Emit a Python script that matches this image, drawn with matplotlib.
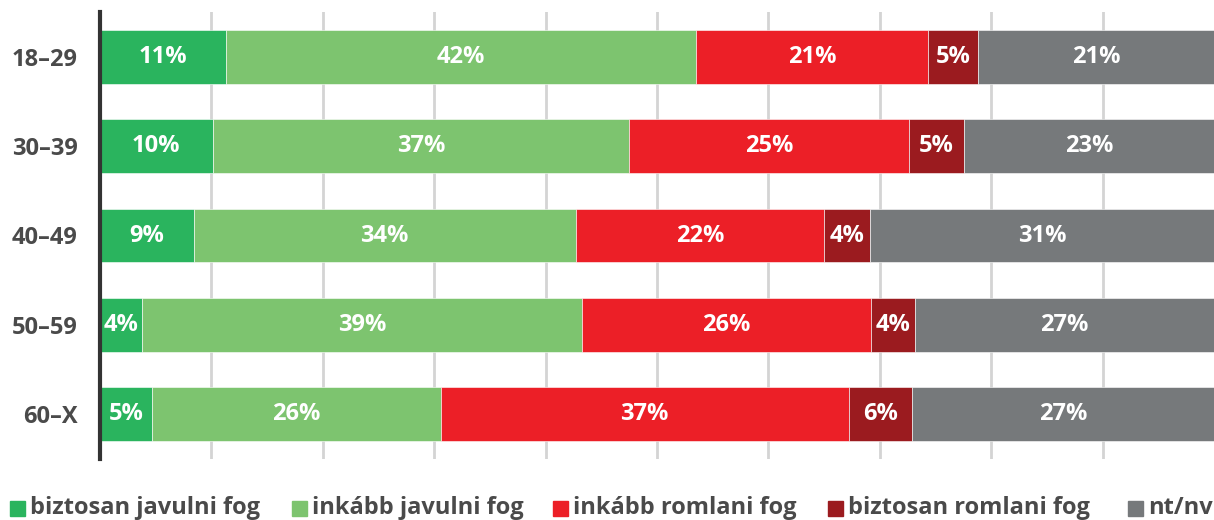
import numpy as np
import matplotlib.pyplot as plt
from matplotlib.patches import Rectangle

plt.rcParams['font.family'] = ['Open Sans', 'DejaVu Sans']

groups = ["18–29", "30–39", "40–49", "50–59", "60–X"]
series = ["biztosan javulni fog", "inkább javulni fog", "inkább romlani fog",
          "biztosan romlani fog", "nt/nv"]
colors = ["#2AB45E", "#7DC46F", "#EC1F27", "#9B1B1F", "#76797B"]

# segment widths (percent)
biztos_jav = [11.3, 10.1, 8.4, 3.8, 4.7]
inkabb_jav = [42.2, 37.4, 34.3, 39.5, 25.9]
inkabb_rom = [20.8, 25.1, 22.3, 25.9, 36.6]
biztos_rom = [4.5, 5.0, 4.1, 4.0, 5.7]
ntnv = [21.2, 22.4, 30.9, 26.8, 27.1]

# printed labels
lab_biztos_jav = [11, 10, 9, 4, 5]
lab_inkabb_jav = [42, 37, 34, 39, 26]
lab_inkabb_rom = [21, 25, 22, 26, 37]
lab_biztos_rom = [5, 5, 4, 4, 6]
lab_ntnv = [21, 23, 31, 27, 27]

values = [biztos_jav, inkabb_jav, inkabb_rom, biztos_rom, ntnv]
labels = [lab_biztos_jav, lab_inkabb_jav, lab_inkabb_rom, lab_biztos_rom, lab_ntnv]

fig = plt.figure(figsize=(12.14, 5.2), dpi=100)
ax = fig.add_axes([100 / 1214, 1 - 459 / 520, 1114 / 1214, 447 / 520])

y = np.arange(len(groups))
left = np.zeros(len(groups))
for vals, labs, col in zip(values, labels, colors):
    ax.barh(y, vals, left=left, height=0.6, color=col, edgecolor="white",
            linewidth=0.4, zorder=2)
    for yi, (l, v, t) in enumerate(zip(left, vals, labs)):
        ax.text(l + v / 2, yi, f"{t}%", ha="center", va="center", color="white",
                fontsize=17, fontweight="bold", zorder=3)
    left += np.array(vals)

ax.set_xlim(0, 100)
ax.set_ylim(len(groups) - 0.5, -0.5)
ax.set_xticks(np.arange(10, 100, 10))
ax.xaxis.grid(True, color="#D4D4D4", linewidth=2, zorder=0)
ax.tick_params(axis="x", length=0, labelbottom=False)
ax.set_yticks(y)
ax.set_yticklabels(groups, fontsize=17, fontweight="bold", color="#4A4A4A")
ax.tick_params(axis="y", length=0, pad=16)
for s in ["top", "right", "bottom"]:
    ax.spines[s].set_visible(False)
ax.spines["left"].set_color("#333333")
ax.spines["left"].set_linewidth(3)
ax.spines["left"].set_zorder(4)

# legend
leg_x = [10, 292, 553, 828, 1128]
for x0, name, col in zip(leg_x, series, colors):
    fig.patches.append(Rectangle((x0 / 1214, 1 - 516 / 520), 15 / 1214, 15 / 520,
                                 transform=fig.transFigure, color=col))
    fig.text((x0 + 20) / 1214, 1 - 508 / 520, name, ha="left", va="center",
             fontsize=17, fontweight="bold", color="#4A4A4A")

fig.savefig("out.png", dpi=100)
